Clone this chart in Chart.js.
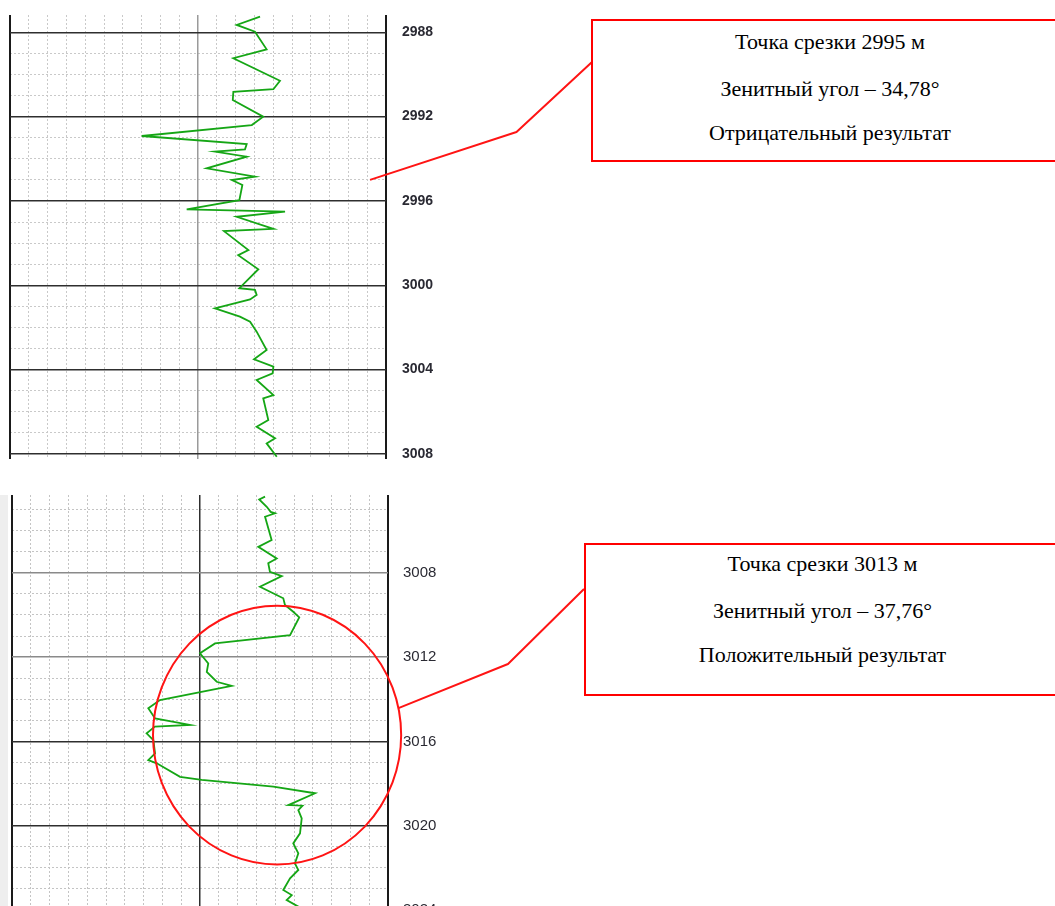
<!DOCTYPE html>
<html lang="ru">
<head>
<meta charset="utf-8">
<title>Точки срезки</title>
<script src="https://cdn.jsdelivr.net/npm/chart.js@4.4.1/dist/chart.umd.min.js"></script>
<style>
  html, body { margin: 0; padding: 0; background: #fff; overflow: hidden; }
  #page { position: relative; width: 1055px; height: 906px; overflow: hidden; background: #fff; }
  #page canvas { position: absolute; left: 0; }
  #logUpper { top: 0; }
  #logLower { top: 480px; }
  .strip { position: absolute; left: 0; top: 495px; width: 8px; height: 411px; background: #eeeeee; }
  .box {
    position: absolute; box-sizing: border-box; border: 2px solid #ff0000; background: #fff;
    font-family: "Liberation Serif", "Times New Roman", serif; font-size: 22px; color: #000; text-align: center;
  }
  .box div { position: absolute; left: 0; right: 0; line-height: 20px; white-space: nowrap; }
</style>
</head>
<body>
<div id="page">
  <div class="strip"></div>
  <canvas id="logUpper" width="1055" height="475"></canvas>
  <canvas id="logLower" width="1055" height="450"></canvas>
  <div class="box" style="left:591px; top:19px; width:478px; height:143px;">
    <div style="top:11px;">Точка срезки 2995 м</div>
    <div style="top:58px;">Зенитный угол – 34,78°</div>
    <div style="top:102px;">Отрицательный результат</div>
  </div>
  <div class="box" style="left:584px; top:543px; width:477px; height:153px;">
    <div style="top:9px;">Точка срезки 3013 м</div>
    <div style="top:56px;">Зенитный угол – 37,76°</div>
    <div style="top:100px;">Положительный результат</div>
  </div>
</div>
<script>
// Upper interval: depth (m) and log reading
const upperDepth = [2987.26, 2987.65, 2987.97, 2988.81, 2989.23, 2990.30, 2990.70, 2990.82, 2991.21, 2992.00,
  2992.40, 2992.92, 2993.30, 2993.55, 2993.66, 2993.90, 2994.45, 2994.85, 2995.01, 2995.24,
  2995.96, 2996.40, 2996.51, 2996.75, 2997.32, 2997.43, 2998.33, 2998.57, 2999.24, 3000.14,
  3000.22, 3000.46, 3000.67, 3001.09, 3001.49, 3001.73, 3002.20, 3003.07, 3003.51, 3003.86,
  3004.18, 3004.49, 3005.21, 3005.36, 3006.39, 3006.71, 3007.26, 3007.50, 3008.13];
const upperValue = [13.30, 12.06, 13.03, 13.65, 11.88, 14.36, 14.01, 11.88, 11.85, 13.47,
  12.86, 7.01, 12.59, 12.50, 10.90, 12.59, 10.46, 13.03, 11.80, 12.36,
  12.20, 9.40, 14.63, 12.06, 14.01, 11.38, 12.68, 12.14, 13.21, 12.20,
  13.03, 13.12, 12.77, 10.90, 12.23, 12.77, 13.12, 13.65, 12.98, 14.01,
  13.97, 13.12, 14.01, 13.47, 13.74, 13.12, 14.10, 13.65, 14.19];

// Lower interval: depth (m) and log reading
const lowerDepth = [3004.39, 3004.52, 3004.87, 3005.11, 3005.18, 3005.34, 3006.45, 3006.77, 3007.32, 3007.55,
  3007.95, 3008.16, 3008.66, 3009.21, 3009.53, 3009.85, 3010.12, 3010.96, 3011.35, 3011.82,
  3012.30, 3012.70, 3013.17, 3013.37, 3014.04, 3014.43, 3014.91, 3015.22, 3015.30, 3015.62,
  3015.94, 3016.57, 3016.89, 3017.04, 3017.68, 3017.83, 3018.15, 3018.46, 3019.02, 3019.05,
  3019.26, 3019.65, 3020.36, 3020.84, 3021.31, 3021.79, 3022.10, 3022.50, 3023.05, 3023.29,
  3023.53, 3023.84, 3024.30];
const lowerValue = [13.46, 13.15, 13.55, 13.76, 13.99, 13.46, 13.81, 13.10, 14.08, 13.63,
  13.72, 14.35, 13.19, 14.43, 14.52, 14.96, 15.28, 14.79, 10.80, 10.00,
  10.44, 10.36, 10.89, 11.69, 7.87, 7.25, 7.61, 9.47, 7.60, 7.16,
  7.52, 7.61, 7.25, 7.70, 8.94, 10.09, 13.90, 16.12, 14.70, 15.45,
  15.23, 15.41, 15.32, 14.96, 15.23, 15.05, 15.23, 14.79, 14.43, 14.88,
  14.61, 15.23, 14.90];

// Depth labels on each track
const upperDepthTicks = [2988, 2992, 2996, 3000, 3004, 3008];
const lowerDepthTicks = [3008, 3012, 3016, 3020, 3024];

// Track columns: borders and the centre line
const trackColumns = [0, 10, 20];

function meterLines(from, to, skip) {
  const out = [];
  for (let d = from; d <= to; d++) if (!skip.includes(d)) out.push({ value: d });
  return out;
}

// Red leader lines (and ring) pointing from a depth on the track to its note box
const calloutPlugin = {
  id: 'callout',
  afterDatasetsDraw(chart, args, opts) {
    const { ctx } = chart;
    const x = chart.scales.x, y = chart.scales.y;
    ctx.save();
    ctx.strokeStyle = '#ff1414';
    ctx.lineWidth = 2;
    ctx.lineJoin = 'round';
    let ax, ay;
    if (opts.ring) {
      const r = opts.ring;
      const cx = x.getPixelForValue(r.value), cy = y.getPixelForValue(r.depth);
      const rx = Math.abs(x.getPixelForValue(r.value + r.rx) - cx);
      const ry = Math.abs(y.getPixelForValue(r.depth + r.ry) - cy);
      ctx.beginPath();
      ctx.ellipse(cx, cy, rx, ry, 0, 0, Math.PI * 2);
      ctx.stroke();
      ax = cx + rx * Math.cos(r.exit);
      ay = cy + ry * Math.sin(r.exit);
    } else {
      ax = x.getPixelForValue(opts.point.value);
      ay = y.getPixelForValue(opts.point.depth);
    }
    ctx.beginPath();
    ctx.moveTo(ax, ay);
    ctx.lineTo(opts.knee[0], opts.knee[1] - opts.offsetTop);
    ctx.lineTo(opts.end[0], opts.end[1] - opts.offsetTop);
    ctx.stroke();
    ctx.restore();
  }
};

function buildTrack(canvasId, t) {
  return new Chart(document.getElementById(canvasId), {
    type: 'scatter',
    data: {
      datasets: [{
        data: t.depth.map((d, i) => ({ x: t.value[i], y: d })),
        showLine: true,
        borderColor: '#15a615',
        borderWidth: 1.8,
        pointRadius: 0,
        pointHoverRadius: 0,
        tension: 0,
        fill: false
      }]
    },
    options: {
      responsive: false,
      animation: false,
      events: [],
      layout: { padding: t.padding },
      plugins: { legend: { display: false }, tooltip: { enabled: false }, callout: t.callout },
      scales: {
        xMinor: {
          type: 'linear', position: 'top', min: 0, max: 20,
          ticks: { display: false },
          grid: { drawTicks: false, color: t.minorColor, lineWidth: 1 },
          border: { display: false, dash: [2, 2] },
          afterBuildTicks: s => { s.ticks = meterLines(1, 19, [10]); },
          afterFit: s => { s.height = 0; s.paddingLeft = 0; s.paddingRight = 0; }
        },
        yMinor: {
          type: 'linear', position: 'left', reverse: true, min: t.min, max: t.max,
          ticks: { display: false },
          grid: { drawTicks: false, color: t.minorColor, lineWidth: 1 },
          border: { display: false, dash: [2, 2] },
          afterBuildTicks: s => { s.ticks = meterLines(Math.ceil(t.min), Math.floor(t.max), t.ticks); },
          afterFit: s => { s.width = 0; s.paddingTop = 0; s.paddingBottom = 0; }
        },
        x: {
          type: 'linear', position: 'bottom', min: 0, max: 20,
          ticks: { display: false },
          grid: {
            drawTicks: false,
            color: c => (c.tick && c.tick.value === 10) ? t.centreColor : '#1a1a1a',
            lineWidth: c => (c.tick && c.tick.value === 10) ? 1.5 : 2
          },
          border: { display: false },
          afterBuildTicks: s => { s.ticks = trackColumns.map(v => ({ value: v })); },
          afterFit: s => { s.height = 0; s.paddingLeft = 0; s.paddingRight = 0; }
        },
        y: {
          type: 'linear', position: 'right', reverse: true, min: t.min, max: t.max,
          ticks: {
            autoSkip: false, padding: t.labelPad, color: '#2a2a33',
            font: t.labelFont,
            callback: v => String(v)
          },
          grid: {
            drawTicks: false,
            color: c => c.tick ? t.rowColor(c.tick.value) : '#333',
            lineWidth: 1.5
          },
          border: { display: false },
          afterBuildTicks: s => { s.ticks = t.ticks.map(v => ({ value: v })); },
          afterFit: s => { s.width = 60; s.paddingTop = 0; s.paddingBottom = 0; }
        }
      }
    },
    plugins: [calloutPlugin]
  });
}

buildTrack('logUpper', {
  depth: upperDepth, value: upperValue, ticks: upperDepthTicks,
  min: 2987.18, max: 3008.24,
  padding: { left: 10, top: 15, right: 1055 - 386 - 60, bottom: 16 },
  minorColor: '#c9c9c9', centreColor: '#9a9a9a',
  rowColor: () => '#2e2e2e',
  labelPad: 16, labelFont: { family: 'Liberation Sans, Arial, sans-serif', size: 14, weight: 'bold' },
  callout: { point: { depth: 2995, value: 19.15 }, knee: [516.5, 132], end: [592, 62], offsetTop: 0 }
});

buildTrack('logLower', {
  depth: lowerDepth, value: lowerValue, ticks: lowerDepthTicks,
  min: 3004.31, max: 3024.71,
  padding: { left: 12, top: 15, right: 1055 - 388 - 60, bottom: 5 },
  minorColor: '#c4c4c4', centreColor: '#2e2e2e',
  rowColor: v => (v <= 3012 ? '#8a8a8a' : '#2e2e2e'),
  labelPad: 15, labelFont: { family: 'Liberation Sans, Arial, sans-serif', size: 15 },
  callout: {
    ring: { depth: 3015.7, value: 14.1, rx: 6.6, ry: 6.14, exit: -0.21 },
    knee: [508, 664], end: [584, 589], offsetTop: 480
  }
});
</script>
</body>
</html>
